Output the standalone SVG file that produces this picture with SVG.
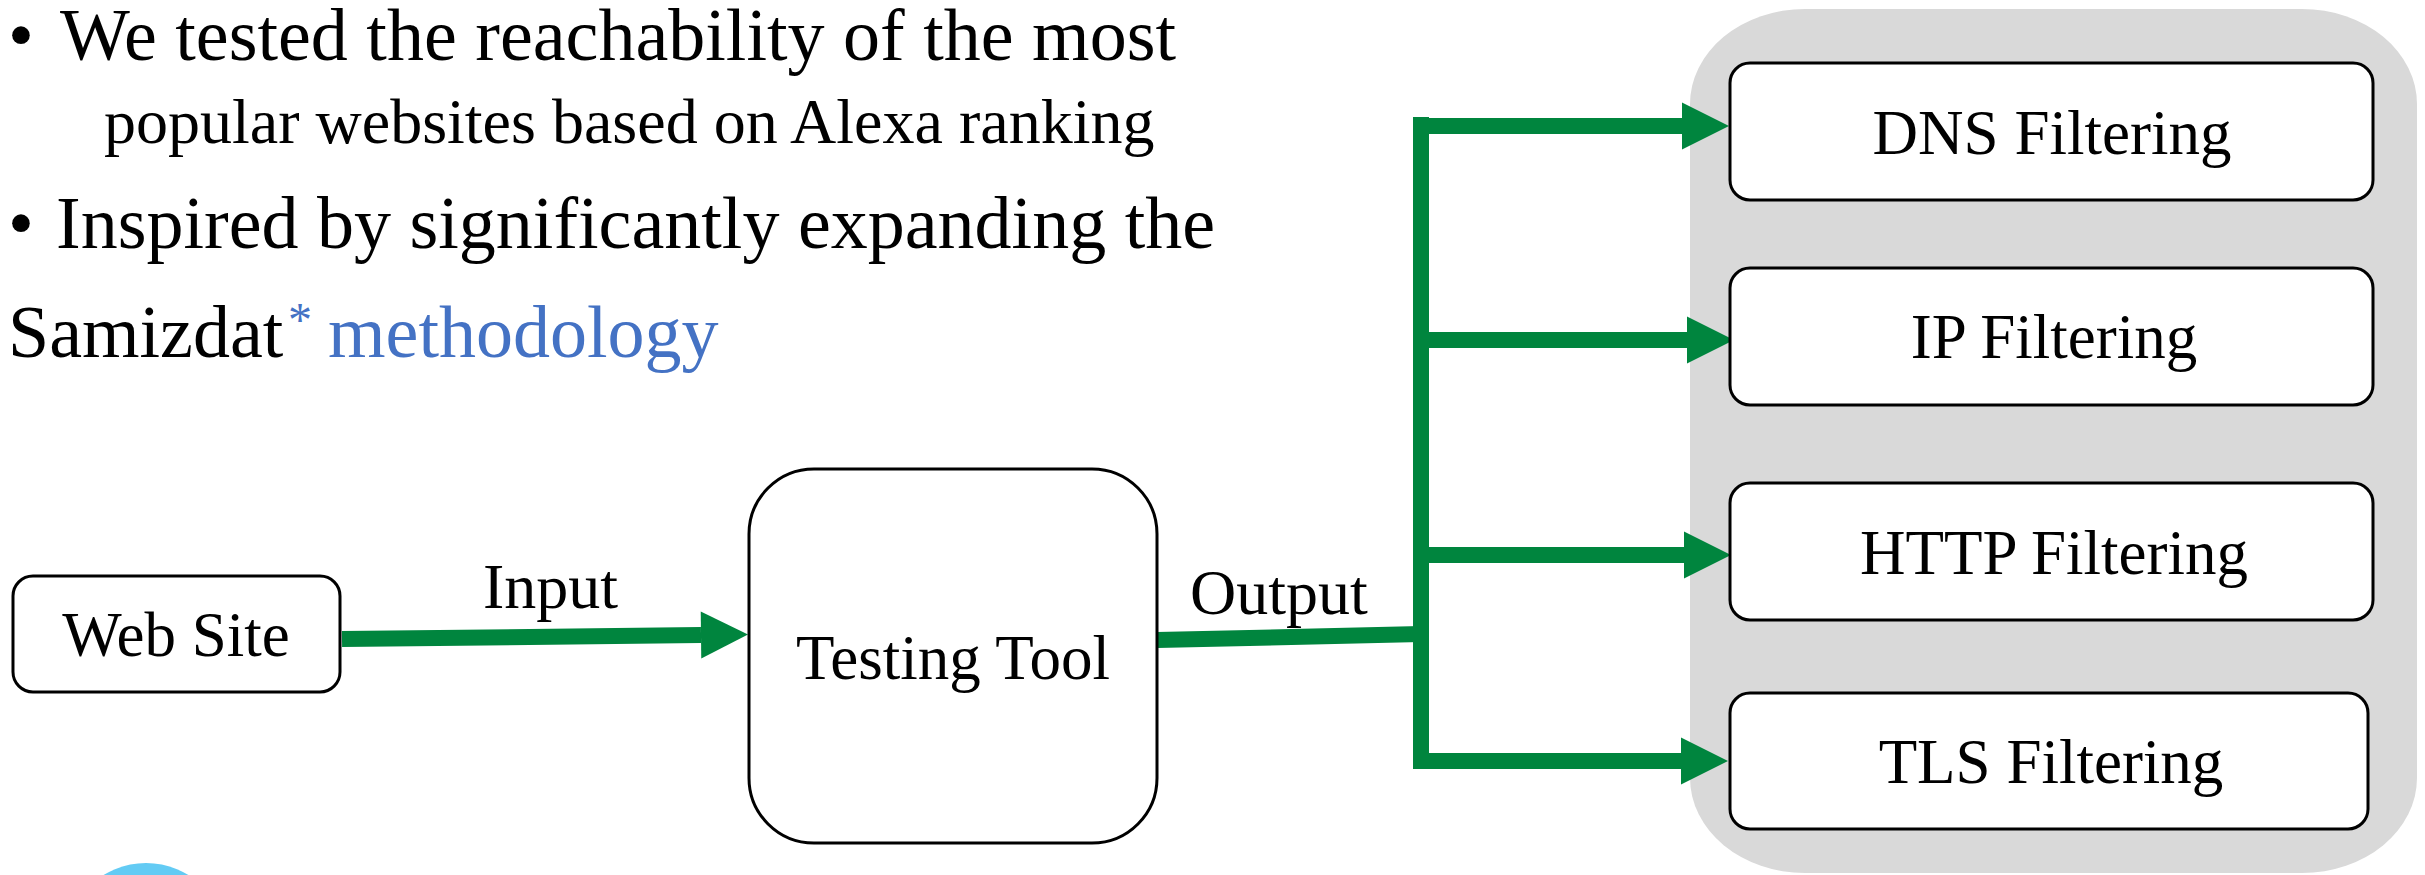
<svg xmlns="http://www.w3.org/2000/svg" width="2425" height="875" viewBox="0 0 2425 875">
  <style>
    .t { font-family: "Liberation Serif", "Times New Roman", serif; fill: #000; }
    .box { fill: #fff; stroke: #000; stroke-width: 3; }
    .lbl { font-size: 63px; text-anchor: middle; }
    .conn { stroke: #00853E; stroke-width: 16; fill: none; stroke-linecap: butt; }
  </style>
  <defs>
    <marker id="head" markerUnits="userSpaceOnUse" markerWidth="48" markerHeight="48" refX="0" refY="23.5" orient="auto" overflow="visible">
      <path d="M0,0 L47,23.5 L0,47 Z" fill="#00853E"/>
    </marker>
  </defs>

  <rect width="2425" height="875" fill="#fff"/>

  <g id="bullets">
    <text class="t" font-size="74" y="60"><tspan x="8">•</tspan><tspan x="60">We tested the reachability of the most</tspan></text>
    <text class="t" font-size="64" x="104" y="143">popular websites based on Alexa ranking</text>
    <text class="t" font-size="74" y="248"><tspan x="8">•</tspan><tspan x="56">Inspired by significantly expanding the</tspan></text>
    <text class="t" font-size="74" y="357"><tspan x="8">Samizdat</tspan><tspan x="288" y="336" font-size="48" fill="#4472C4">*</tspan><tspan x="328" y="357" fill="#4472C4">methodology</tspan></text>
  </g>

  <circle id="deco-circle" cx="146" cy="944" r="81" fill="#63CBF4"/>

  <g id="filter-panel">
    <rect x="1690" y="9" width="727" height="864" rx="115" ry="95" fill="#D9D9D9"/>
  </g>

  <g id="connectors">
    <line class="conn" x1="342" y1="639" x2="701" y2="635" marker-end="url(#head)"/>
    <line class="conn" x1="1157" y1="640" x2="1421" y2="634"/>
    <line class="conn" x1="1421" y1="117" x2="1421" y2="769" stroke-width="15"/>
    <line class="conn" x1="1414" y1="126" x2="1682" y2="126" marker-end="url(#head)"/>
    <line class="conn" x1="1421" y1="340" x2="1687" y2="340" marker-end="url(#head)"/>
    <line class="conn" x1="1421" y1="555" x2="1684" y2="555" marker-end="url(#head)"/>
    <line class="conn" x1="1414" y1="761" x2="1681" y2="761" marker-end="url(#head)"/>
    <text class="t" font-size="64" x="483" y="608">Input</text>
    <text class="t" font-size="64" x="1190" y="614">Output</text>
  </g>

  <g id="web-site">
    <rect class="box" x="13" y="576" width="327" height="116" rx="20"/>
    <text class="t lbl" x="176" y="656">Web Site</text>
  </g>

  <g id="testing-tool">
    <rect class="box" x="749" y="469" width="408" height="374" rx="65"/>
    <text class="t lbl" x="953" y="679">Testing Tool</text>
  </g>

  <g id="dns-filtering">
    <rect class="box" x="1730" y="63" width="643" height="137" rx="20"/>
    <text class="t lbl" x="2052" y="154">DNS Filtering</text>
  </g>

  <g id="ip-filtering">
    <rect class="box" x="1730" y="268" width="643" height="137" rx="20"/>
    <text class="t lbl" x="2054" y="358">IP Filtering</text>
  </g>

  <g id="http-filtering">
    <rect class="box" x="1730" y="483" width="643" height="137" rx="20"/>
    <text class="t lbl" x="2054" y="574">HTTP Filtering</text>
  </g>

  <g id="tls-filtering">
    <rect class="box" x="1730" y="693" width="638" height="136" rx="20"/>
    <text class="t lbl" x="2051" y="783">TLS Filtering</text>
  </g>
</svg>
